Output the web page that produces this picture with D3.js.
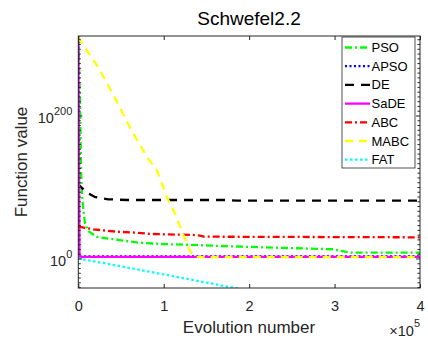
<!DOCTYPE html>
<html>
<head>
<meta charset="utf-8">
<script src="https://cdn.jsdelivr.net/npm/d3@7"></script>
<style>
  html, body { margin: 0; padding: 0; background: #fff; }
  svg { display: block; font-family: "Liberation Sans", Arial, Helvetica, sans-serif; }
</style>
</head>
<body>
<svg id="chart" width="428" height="342"></svg>
<script>
// Convergence curves on Schwefel 2.2. Function values span hundreds of
// decades (beyond double range), so each series is stored as log10(value).
const evoPSO  = [0, 2000, 3200, 4300, 5900, 7800, 11400, 21900, 43000, 68700, 95700, 134300, 165900, 212800, 298000, 318000, 400000];
const logPSO  = [310.5, 222.4, 124.5, 89.5, 68.5, 50.3, 39.2, 30.8, 27.3, 23.1, 21.0, 19.6, 18.2, 16.4, 13.6, 8.8, 8.8];

const evoAPSO = [0, 500, 400000];
const logAPSO = [311, 3.6, 3.6];

const evoDE   = [0, 1000, 10000, 19000, 35000, 57000, 174000, 186000, 400000];
const logDE   = [107, 103, 93, 87, 83.5, 82.5, 82.5, 81.5, 81.5];

const evoSaDE = [0, 1400, 400000];
const logSaDE = [311, 2.8, 2.8];

const evoABC  = [0, 17600, 45000, 68400, 84000, 134300, 142500, 147000, 400000];
const logABC  = [45.2, 41.5, 38.2, 36.8, 35.0, 33.6, 32.6, 31.2, 30.3];

const evoMABC = [0, 2000, 25000, 43000, 60000, 80000, 92000, 103500, 113000, 123000, 131000, 138000, 400000];
const logMABC = [311, 306, 265, 225, 185, 143, 124.5, 87, 64, 33.6, 10.2, 2.6, 2.6];

const evoFAT  = [0, 5000, 10000, 50000, 100000, 150000, 200000];
const logFAT  = [1, -0.4, -1.5, -10.3, -21.6, -33, -44.5];

const seriesNames  = ["PSO", "APSO", "DE", "SaDE", "ABC", "MABC", "FAT"];
const seriesColors = ["#00ff00", "#0000ff", "#000000", "#ff00ff", "#ff0000", "#ffff00", "#00ffff"];
const seriesDashes = ["7,3,2,3", "2,2.5", "9,7", null, "7,3,2,3", "8,6", "2.5,2.5"];

const xTickValues = [0, 100000, 200000, 300000, 400000];
const xTickLabels = ["0", "1", "2", "3", "4"];
const yTickExponents = [0, 200];

const series = [
  { evo: evoPSO,  lg: logPSO  },
  { evo: evoAPSO, lg: logAPSO },
  { evo: evoDE,   lg: logDE   },
  { evo: evoSaDE, lg: logSaDE },
  { evo: evoABC,  lg: logABC  },
  { evo: evoMABC, lg: logMABC },
  { evo: evoFAT,  lg: logFAT  }
].map((s, i) => ({
  name: seriesNames[i], color: seriesColors[i], dash: seriesDashes[i],
  points: s.evo.map((e, j) => [e, s.lg[j]])
}));

const svg = d3.select("#chart");
const plot = { left: 78.3, right: 420, top: 36, bottom: 288 };
const ink = "#262626";

const x = d3.scaleLinear().domain([0, 400000]).range([plot.left, plot.right]);
// exponent axis: log10(value) mapped linearly
const y = d3.scaleLinear().domain([-40.6, 311.9]).range([plot.bottom, plot.top]);

svg.append("defs").append("clipPath").attr("id", "plotClip")
  .append("rect")
  .attr("x", plot.left).attr("y", plot.top)
  .attr("width", plot.right - plot.left).attr("height", plot.bottom - plot.top);

// Data lines
const line = d3.line().x(d => x(d[0])).y(d => y(d[1]));
const lines = svg.append("g").attr("clip-path", "url(#plotClip)");
series.forEach(s => {
  lines.append("path")
    .attr("d", line(s.points))
    .attr("fill", "none")
    .attr("stroke", s.color)
    .attr("stroke-width", 2.3)
    .attr("stroke-dasharray", s.dash)
    .attr("stroke-linejoin", "round");
});

// Axes box with inward ticks on all four sides
svg.append("rect")
  .attr("x", plot.left).attr("y", plot.top)
  .attr("width", plot.right - plot.left).attr("height", plot.bottom - plot.top)
  .attr("fill", "none").attr("stroke", ink).attr("stroke-width", 1);

const xAxisBottom = d3.axisBottom(x).tickValues(xTickValues)
  .tickSizeInner(-4).tickSizeOuter(0).tickPadding(13)
  .tickFormat((d, i) => xTickLabels[i]);
const gxb = svg.append("g").attr("transform", `translate(0,${plot.bottom})`).call(xAxisBottom);
gxb.select(".domain").remove();
gxb.selectAll("line").attr("stroke", ink);
gxb.selectAll("text").attr("font-size", 14.5).attr("fill", ink)
  .attr("font-family", "Liberation Sans, Arial, sans-serif");

const xAxisTop = d3.axisTop(x).tickValues(xTickValues).tickSizeInner(-4).tickSizeOuter(0).tickFormat("");
const gxt = svg.append("g").attr("transform", `translate(0,${plot.top})`).call(xAxisTop);
gxt.select(".domain").remove();
gxt.selectAll("line").attr("stroke", ink);

// minor ticks on the exponent axis
const minorTicks = d3.range(-40, 312, 20 / 3).filter(e => !yTickExponents.some(t => Math.abs(t - e) < 1e-6));
[plot.left, plot.right].forEach((px, side) => {
  const dir = side === 0 ? 1 : -1;
  const g = svg.append("g");
  g.selectAll("line.minor").data(minorTicks).join("line")
    .attr("x1", px).attr("x2", px + dir * 2.5)
    .attr("y1", d => y(d)).attr("y2", d => y(d))
    .attr("stroke", ink).attr("stroke-width", 1);
  g.selectAll("line.major").data(yTickExponents).join("line")
    .attr("x1", px).attr("x2", px + dir * 4)
    .attr("y1", d => y(d)).attr("y2", d => y(d))
    .attr("stroke", ink).attr("stroke-width", 1);
});

// y tick labels 10^k
const yLabels = svg.append("g");
yTickExponents.forEach(e => {
  const t = yLabels.append("text")
    .attr("x", plot.left - 6).attr("y", y(e) + 7)
    .attr("text-anchor", "end").attr("fill", ink).attr("font-size", 14.5);
  t.append("tspan").text("10");
  t.append("tspan").attr("dy", -7.5).attr("font-size", 11).text(String(e));
});

// Axis labels
svg.append("text")
  .attr("x", 249).attr("y", 333)
  .attr("text-anchor", "middle").attr("font-size", 17).attr("fill", ink)
  .text("Evolution number");

const mult = svg.append("text")
  .attr("x", 420).attr("y", 336)
  .attr("text-anchor", "end").attr("font-size", 14.5).attr("fill", ink);
mult.append("tspan").text("×10");
mult.append("tspan").attr("dy", -9).attr("font-size", 11).text("5");

svg.append("text")
  .attr("transform", `translate(26.5,${(plot.top + plot.bottom) / 2}) rotate(-90)`)
  .attr("text-anchor", "middle").attr("font-size", 17).attr("fill", ink)
  .text("Function value");

// Title
svg.append("text")
  .attr("x", 249).attr("y", 25)
  .attr("text-anchor", "middle").attr("font-size", 19).attr("fill", "#000")
  .text("Schwefel2.2");

// Legend
const legend = svg.append("g");
legend.append("rect")
  .attr("x", 342).attr("y", 37).attr("width", 73).attr("height", 131)
  .attr("fill", "#fff").attr("stroke", ink).attr("stroke-width", 0.8);
series.forEach((s, i) => {
  const ly = 47.5 + i * 18.7;
  legend.append("line")
    .attr("x1", 345).attr("x2", 370).attr("y1", ly).attr("y2", ly)
    .attr("stroke", s.color).attr("stroke-width", 2.3)
    .attr("stroke-dasharray", s.dash);
  legend.append("text")
    .attr("x", 371.5).attr("y", ly + 4.5)
    .attr("font-size", 13).attr("fill", "#000")
    .text(s.name);
});
</script>
</body>
</html>
